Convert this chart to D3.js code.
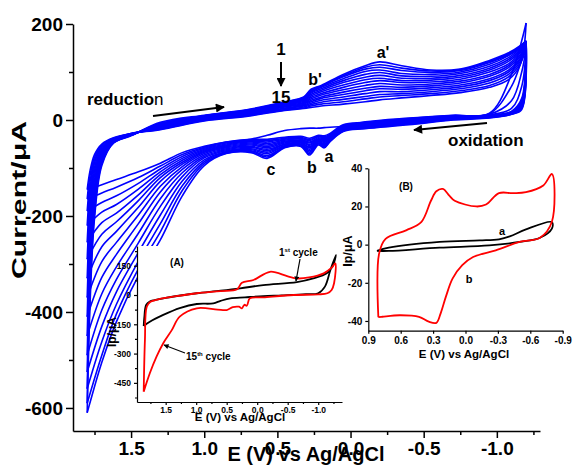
<!DOCTYPE html>
<html>
<head>
<meta charset="utf-8">
<script src="https://cdn.jsdelivr.net/npm/d3@7/dist/d3.min.js"></script>
<style>
  body { margin: 0; background: #fff; }
  svg text { font-family: "Liberation Sans", Arial, sans-serif; font-weight: bold; fill: #000; }
  .axis path, .axis line { stroke: #000; }
</style>
</head>
<body>
<svg id="chart" width="573" height="476"></svg>
<script>
// ---- main voltammogram: 15 cycles, potential grids shared by all cycles
var fwdE = [1.80, 1.78, 1.75, 1.70, 1.62, 1.50, 1.30, 1.00, 0.70, 0.45, 0.32, 0.27, 0.20, 0.05, -0.10, -0.20, -0.35, -0.55, -0.75, -0.95, -1.08, -1.16, -1.20];
var revE = [-1.20, -1.17, -1.10, -0.95, -0.70, -0.40, -0.10, 0.05, 0.14, 0.18, 0.22, 0.28, 0.34, 0.45, 0.57, 0.68, 0.85, 1.00, 1.15, 1.30, 1.45, 1.60, 1.70, 1.80];

// current (uA) on the forward sweep, cycle 1 .. 15
var fwdI = [
  [-145, -105, -72, -50, -37, -28, -20, -2, 8, 20, 24, 26, 29, 33, 38, 42, 46, 51, 57, 68, 84, 115, 202],
  [-165, -115, -78, -52, -38, -28, -19, -1, 9, 21, 25, 29, 33, 38, 44, 48, 51, 55, 61, 72, 90, 118, 150],
  [-190, -128, -84, -55, -39, -28, -18, 0, 10, 22, 27, 32, 37, 43, 49, 53, 55, 59, 65, 77, 95, 122, 152],
  [-220, -142, -90, -58, -40, -29, -17, 1, 11, 24, 29, 35, 41, 48, 55, 59, 59, 63, 69, 82, 100, 126, 154],
  [-255, -160, -98, -61, -41, -29, -16, 2, 12, 25, 31, 38, 45, 53, 61, 65, 64, 67, 73, 86, 104, 129, 156],
  [-290, -180, -106, -64, -42, -30, -15, 3, 13, 27, 33, 41, 48, 58, 66, 70, 68, 71, 77, 91, 109, 133, 157],
  [-330, -200, -115, -67, -43, -30, -14, 4, 14, 28, 35, 44, 52, 63, 72, 76, 73, 75, 81, 95, 113, 136, 158],
  [-370, -222, -125, -70, -44, -30, -13, 5, 15, 29, 37, 47, 55, 68, 78, 82, 78, 79, 85, 100, 117, 140, 159],
  [-410, -245, -136, -73, -45, -31, -12, 6, 16, 31, 39, 50, 59, 73, 84, 87, 82, 83, 89, 104, 122, 143, 160],
  [-450, -268, -148, -77, -46, -31, -11, 7, 17, 32, 41, 53, 62, 78, 89, 93, 87, 87, 93, 108, 126, 146, 161],
  [-490, -292, -160, -80, -46, -31, -10, 7, 18, 33, 43, 56, 65, 82, 95, 99, 92, 91, 97, 112, 130, 149, 162],
  [-525, -315, -172, -84, -47, -32, -9, 8, 19, 35, 44, 58, 68, 86, 101, 104, 97, 95, 100, 116, 134, 151, 163],
  [-560, -338, -184, -87, -47, -32, -8, 9, 20, 36, 46, 60, 70, 90, 106, 110, 103, 99, 103, 120, 136, 153, 164],
  [-590, -360, -194, -91, -48, -32, -7, 9, 21, 37, 47, 62, 71, 92, 110, 115, 108, 102, 105, 122, 138, 154, 165],
  [-610, -380, -205, -95, -48, -33, -5, 10, 22, 38, 48, 64, 72, 95, 113, 121, 113, 104, 106, 124, 140, 155, 165]
];

// current (uA) on the reverse sweep, cycle 1 .. 15
var revI = [
  [202, 165, 95, 14, 10, 4, -4, -13, -15, -16, -17, -17, -18, -22, -32, -40, -46, -55, -68, -90, -108, -124, -135, -145],
  [150, 125, 70, 13, 9, 3, -5, -10, -28, -33, -32, -38, -34, -36, -40, -40, -46, -57, -72, -96, -120, -140, -152, -165],
  [152, 100, 40, 12, 8, 2, -6, -12, -30, -35, -34, -41, -36, -38, -43, -42, -48, -59, -76, -102, -132, -158, -172, -190],
  [154, 70, 24, 11, 7, 1, -7, -13, -31, -37, -35, -43, -38, -40, -46, -44, -50, -61, -80, -108, -144, -176, -192, -220],
  [156, 45, 18, 10, 6, 0, -8, -14, -33, -39, -37, -46, -40, -42, -49, -46, -52, -63, -84, -114, -156, -194, -214, -255],
  [157, 40, 17, 10, 6, -1, -9, -15, -34, -41, -39, -48, -42, -44, -52, -48, -54, -65, -88, -120, -168, -212, -238, -290],
  [158, 38, 16, 9, 5, -2, -10, -16, -35, -43, -40, -51, -43, -46, -55, -50, -56, -67, -92, -128, -182, -232, -264, -330],
  [159, 36, 15, 9, 4, -3, -11, -17, -37, -45, -42, -53, -45, -48, -58, -52, -58, -70, -97, -138, -198, -255, -295, -370],
  [160, 34, 15, 8, 4, -4, -12, -18, -38, -47, -43, -56, -47, -50, -61, -55, -60, -73, -103, -150, -216, -280, -328, -410],
  [161, 32, 14, 7, 3, -5, -13, -19, -39, -49, -45, -58, -48, -51, -64, -57, -62, -76, -110, -164, -236, -306, -362, -450],
  [162, 30, 14, 7, 2, -6, -14, -20, -41, -51, -46, -61, -50, -53, -67, -60, -64, -79, -118, -180, -256, -332, -396, -490],
  [163, 28, 13, 6, 2, -7, -15, -21, -42, -53, -48, -64, -51, -54, -70, -62, -66, -83, -127, -198, -276, -358, -430, -525],
  [164, 26, 13, 6, 1, -8, -16, -22, -43, -55, -49, -67, -52, -56, -74, -64, -67, -87, -137, -216, -294, -384, -462, -560],
  [165, 24, 12, 5, 1, -9, -17, -23, -44, -57, -50, -70, -54, -57, -77, -66, -69, -91, -147, -233, -310, -404, -490, -590],
  [165, 22, 12, 4, 0, -10, -18, -24, -45, -58, -52, -73, -55, -58, -80, -68, -70, -95, -158, -250, -325, -420, -505, -610]
];

var mainXTicks = [1.5, 1.0, 0.5, 0.0, -0.5, -1.0];
var mainXMinor = [1.75, 1.25, 0.75, 0.25, -0.25, -0.75, -1.25];
var mainYTicks = [200, 0, -200, -400, -600];
var mainYMinor = [100, -100, -300, -500];

// ---- inset (A): 1st cycle (black) and 15th cycle (red)
var insetA1E = [1.86, 1.85, 1.82, 1.76, 1.68, 1.50, 1.20, 0.99, 0.60, 0.28, -0.10, -0.65, -0.92, -1.14, -1.24, -1.29,
                -1.20, -1.11, -1.00, -0.80, -0.40, -0.10, 0.20, 0.44, 0.60, 0.72, 0.99, 1.27, 1.54, 1.76, 1.86];
var insetA1I = [-159, -115, -51, -33, -26, -15, 0, 9, 22, 34, 51, 66, 85, 111, 150, 205,
                128, 43, 9, 4, -2, -6, -12, -17, -30, -43, -46, -67, -102, -137, -159];
var insetA15E = [1.86, 1.84, 1.81, 1.75, 1.62, 1.30, 0.99, 0.60, 0.33, 0.25, 0.06, -0.21, -0.49, -0.65, -0.85, -1.09, -1.22, -1.28,
                 -1.26, -1.22, -1.15, -1.00, -0.60, -0.10, 0.12, 0.17, 0.21, 0.25, 0.30, 0.40, 0.50, 0.65, 0.99, 1.27, 1.40, 1.54, 1.65, 1.76, 1.86];
var insetA15I = [-495, -230, -60, -35, -22, -5, 9, 20, 29, 63, 77, 119, 97, 85, 90, 111, 140, 162,
                 60, 26, 9, 3, 0, -12, -17, -55, -50, -68, -60, -62, -77, -75, -68, -111, -180, -247, -316, -401, -495];
var insetAXTicks = [1.5, 1.0, 0.5, 0.0, -0.5, -1.0];
var insetAXMinor = [1.75, 1.25, 0.75, 0.25, -0.25, -0.75, -1.25];
var insetAYTicks = [150, 0, -150, -300, -450];
var insetAYMinor = [225, 75, -75, -225, -375, -525];

// ---- inset (B): curves a (black) and b (red)
var insetBaE = [0.82, 0.71, 0.24, -0.13, -0.31, -0.41, -0.56, -0.80, -0.80, -0.69, -0.50, -0.22, 0.24, 0.71, 0.82];
var insetBaI = [-3.3, -1.6, 1.4, 2.2, 2.8, 4.3, 8, 11.8, 8.4, 3.6, 1.4, -0.4, -1.6, -3.3, -3.3];
var insetBbE = [0.807, 0.80, 0.74, 0.55, 0.41, 0.32, 0.27, 0.21, 0.15, 0.10, -0.10, -0.19, -0.31, -0.44, -0.56, -0.72, -0.80,
                -0.80, -0.69, -0.50, -0.28, -0.07, 0.03, 0.12, 0.18, 0.23, 0.27, 0.34, 0.43, 0.61, 0.77, 0.807];
var insetBbI = [-38, -4.7, 3, 7.5, 11.8, 23, 28, 29.2, 25.7, 23, 20, 21, 27, 27, 27.5, 31, 37,
                12, 3.6, 1.4, -3, -6.5, -10.8, -17.8, -27, -36, -41, -40.4, -37.8, -37, -37.8, -38];
var insetBXTicks = [0.9, 0.6, 0.3, 0.0, -0.3, -0.6, -0.9];
var insetBYTicks = [40, 20, 0, -20, -40];

var fmt1 = d => d.toFixed(1);
var zip = (a, b) => a.map((v, i) => [v, b[i]]);

var svg = d3.select("#chart");

var defs = svg.append("defs");
var addMarker = function(id, w, h) {
  defs.append("marker")
    .attr("id", id)
    .attr("viewBox", "0 0 10 10")
    .attr("refX", 9).attr("refY", 5)
    .attr("markerUnits", "userSpaceOnUse")
    .attr("markerWidth", w).attr("markerHeight", h)
    .attr("orient", "auto")
    .append("path").attr("d", "M0,0L10,5L0,10z").attr("fill", "#000");
};
addMarker("headBig", 13, 9);
addMarker("headSmall", 7, 5);

// draw a pair of axes with major (labelled) and minor ticks
var drawAxes = function(g, x, y, o) {
  var bottom = y.range()[0];
  var left = x.range()[0];

  var xa = g.append("g").attr("class", "axis")
    .attr("transform", `translate(0,${bottom})`)
    .call(d3.axisBottom(x).tickValues(o.xTicks).tickSize(o.major).tickSizeOuter(0)
      .tickPadding(o.xPad).tickFormat(o.xFmt))
    .attr("font-size", o.fs);
  xa.select(".domain").attr("stroke-width", o.sw);
  xa.selectAll(".tick line").attr("stroke-width", o.sw);

  var ya = g.append("g").attr("class", "axis")
    .attr("transform", `translate(${left},0)`)
    .call(d3.axisLeft(y).tickValues(o.yTicks).tickSize(o.major).tickSizeOuter(0)
      .tickPadding(o.yPad).tickFormat(o.yFmt))
    .attr("font-size", o.fs);
  ya.select(".domain").attr("stroke-width", o.sw);
  ya.selectAll(".tick line").attr("stroke-width", o.sw);

  if (o.xMinor) {
    g.append("g").attr("class", "axis")
      .attr("transform", `translate(0,${bottom})`)
      .call(d3.axisBottom(x).tickValues(o.xMinor).tickSize(o.minor).tickSizeOuter(0).tickFormat(""))
      .call(s => s.select(".domain").remove())
      .selectAll("line").attr("stroke-width", o.sw);
  }
  if (o.yMinor) {
    g.append("g").attr("class", "axis")
      .attr("transform", `translate(${left},0)`)
      .call(d3.axisLeft(y).tickValues(o.yMinor).tickSize(o.minor).tickSizeOuter(0).tickFormat(""))
      .call(s => s.select(".domain").remove())
      .selectAll("line").attr("stroke-width", o.sw);
  }
};

var label = function(g, x, y, txt, size, anchor) {
  return g.append("text").attr("x", x).attr("y", y)
    .attr("font-size", size).attr("text-anchor", anchor || "middle").text(txt);
};

var arrow = function(g, x1, y1, x2, y2, sw, marker) {
  g.append("line").attr("x1", x1).attr("y1", y1).attr("x2", x2).attr("y2", y2)
    .attr("stroke", "#000").attr("stroke-width", sw)
    .attr("marker-end", `url(#${marker})`);
};

// ---------------- main chart
var xMain = d3.scaleLinear().domain([1.897, -1.295]).range([73, 540]);
var yMain = d3.scaleLinear().domain([-648, 200]).range([431, 24]);

var lineMain = d3.line()
  .x(d => xMain(d[0]))
  .y(d => yMain(d[1]))
  .curve(d3.curveCatmullRom.alpha(0.5));

var main = svg.append("g");

var cycles = main.append("g").attr("class", "cycles");
fwdI.forEach(function(cur, k) {
  cycles.append("path")
    .attr("d", lineMain(zip(fwdE, cur)))
    .attr("fill", "none").attr("stroke", "#0000ff").attr("stroke-width", 1.6);
  cycles.append("path")
    .attr("d", lineMain(zip(revE, revI[k])))
    .attr("fill", "none").attr("stroke", "#0000ff").attr("stroke-width", 1.6);
});

drawAxes(main, xMain, yMain, {
  xTicks: mainXTicks, xMinor: mainXMinor, yTicks: mainYTicks, yMinor: mainYMinor,
  major: 7, minor: 4, xPad: 4, yPad: 3, fs: 19, sw: 1.5,
  xFmt: fmt1, yFmt: d => String(d)
});

main.append("text")
  .attr("transform", "translate(26,200) rotate(-90)")
  .attr("text-anchor", "middle").attr("font-size", 21)
  .attr("textLength", 158).attr("lengthAdjust", "spacingAndGlyphs")
  .text("Current/\u03bcA");
label(main, 306, 461, "E (V) vs Ag/AgCl", 20);

// annotations
label(main, 281, 55, "1", 17);
arrow(main, 281, 62, 281, 86, 2, "headBig");
label(main, 281, 103, "15", 17);
label(main, 315, 85, "b'", 16);
label(main, 383, 58, "a'", 16);
label(main, 271, 175, "c", 16);
label(main, 312, 173, "b", 16);
label(main, 329, 162, "a", 16);

var red = main.append("text").attr("x", 87).attr("y", 105).attr("font-size", 17);
red.append("tspan").text("reductio");
red.append("tspan").attr("font-weight", "normal").style("font-weight", "normal").text("n");
arrow(main, 153, 116, 224, 107, 2, "headBig");

label(main, 448, 146, "oxidation", 17, "start");
arrow(main, 487, 123, 414, 130, 2, "headBig");

// ---------------- inset A
var xA = d3.scaleLinear().domain([1.97, -1.39]).range([137, 342]);
var yA = d3.scaleLinear().domain([-548, 251]).range([402, 246]);
var lineA = d3.line().x(d => xA(d[0])).y(d => yA(d[1])).curve(d3.curveCatmullRom.alpha(0.5));

var insA = svg.append("g");
insA.append("rect").attr("x", 137).attr("y", 246).attr("width", 205).attr("height", 156).attr("fill", "#fff");
insA.append("path").attr("d", lineA(zip(insetA1E, insetA1I)))
  .attr("fill", "none").attr("stroke", "#000").attr("stroke-width", 1.8);
insA.append("path").attr("d", lineA(zip(insetA15E, insetA15I)))
  .attr("fill", "none").attr("stroke", "#ff0000").attr("stroke-width", 1.8);

drawAxes(insA, xA, yA, {
  xTicks: insetAXTicks, xMinor: insetAXMinor, yTicks: insetAYTicks, yMinor: insetAYMinor,
  major: 3, minor: 2, xPad: 2, yPad: 3, fs: 8.5, sw: 1.2,
  xFmt: fmt1, yFmt: d => String(d)
});

insA.append("text")
  .attr("transform", "translate(116,332) rotate(-90)")
  .attr("text-anchor", "middle").attr("font-size", 12)
  .text("Ip/\u03bcA");
label(insA, 240, 421, "E (V) vs Ag/AgCl", 11.5);
label(insA, 177, 266, "(A)", 10);

var c1 = insA.append("text").attr("x", 279).attr("y", 256).attr("font-size", 10);
c1.append("tspan").text("1");
c1.append("tspan").attr("font-size", 6).attr("dy", -4).text("st");
c1.append("tspan").attr("dy", 4).text(" cycle");
arrow(insA, 300, 259, 296, 281, 1.2, "headSmall");

var c15 = insA.append("text").attr("x", 186).attr("y", 360).attr("font-size", 10);
c15.append("tspan").text("15");
c15.append("tspan").attr("font-size", 6).attr("dy", -4).text("th");
c15.append("tspan").attr("dy", 4).text(" cycle");
arrow(insA, 185, 353, 164, 345, 1.2, "headSmall");

// ---------------- inset B
var xB = d3.scaleLinear().domain([0.9, -0.9]).range([368.3, 562.7]);
var yB = d3.scaleLinear().domain([-45.1, 40]).range([330.7, 168.3]);
var lineB = d3.line().x(d => xB(d[0])).y(d => yB(d[1])).curve(d3.curveCatmullRom.alpha(0.5));

var insB = svg.append("g");
insB.append("rect").attr("x", 368).attr("y", 168).attr("width", 195).attr("height", 163).attr("fill", "#fff");
insB.append("path").attr("d", lineB(zip(insetBaE, insetBaI)))
  .attr("fill", "none").attr("stroke", "#000").attr("stroke-width", 1.8);
insB.append("path").attr("d", lineB(zip(insetBbE, insetBbI)))
  .attr("fill", "none").attr("stroke", "#ff0000").attr("stroke-width", 1.8);

drawAxes(insB, xB, yB, {
  xTicks: insetBXTicks, yTicks: insetBYTicks,
  major: 3, minor: 2, xPad: 3, yPad: 3, fs: 10, sw: 1.2,
  xFmt: fmt1, yFmt: d => String(d)
});

insB.append("text")
  .attr("transform", "translate(352,251) rotate(-90)")
  .attr("text-anchor", "middle").attr("font-size", 12.5)
  .text("Ip/\u03bcA");
label(insB, 464, 358, "E (V) vs Ag/AgCl", 11.5);
label(insB, 406, 190, "(B)", 10);
label(insB, 502, 235, "a", 11);
label(insB, 469, 283, "b", 11);
</script>
</body>
</html>
